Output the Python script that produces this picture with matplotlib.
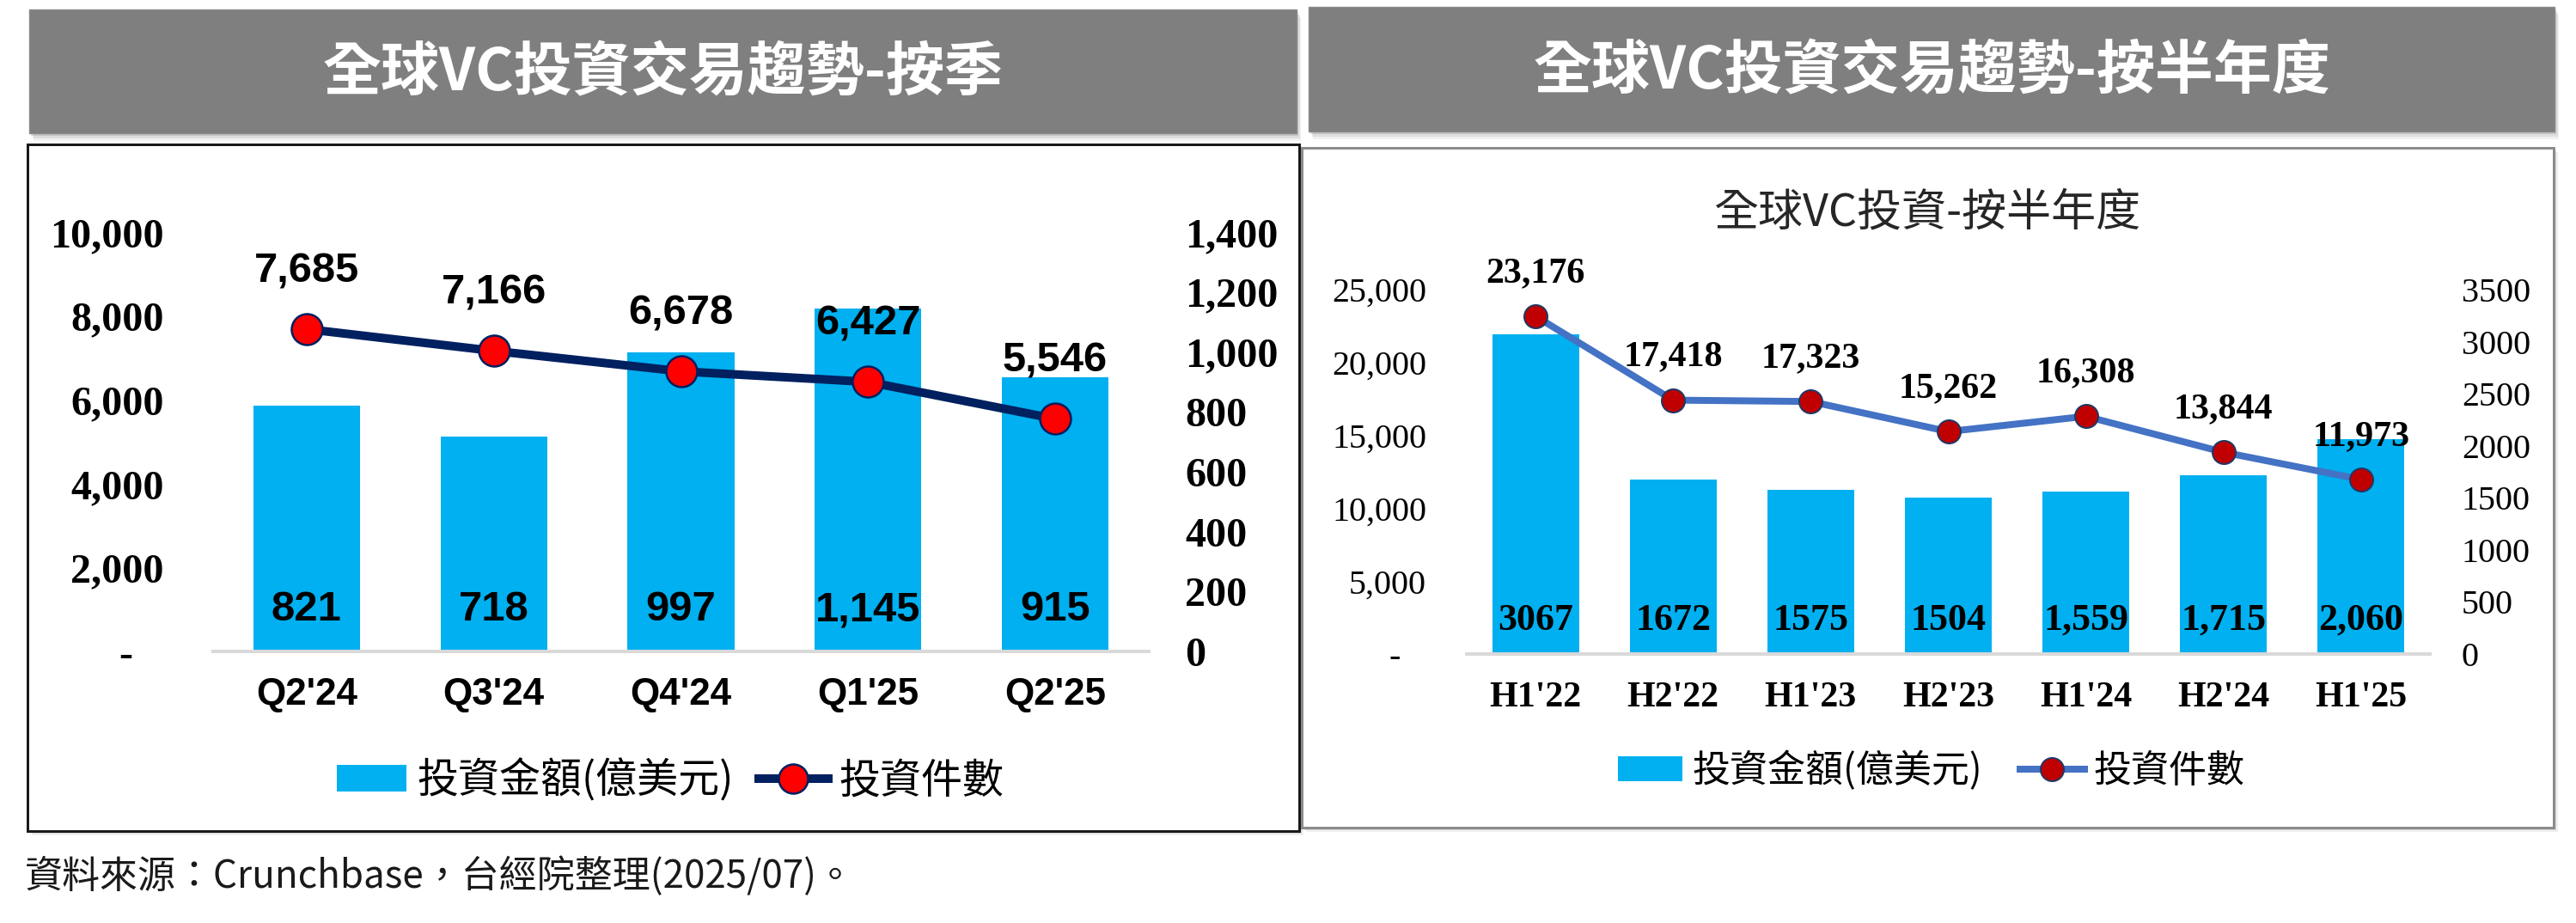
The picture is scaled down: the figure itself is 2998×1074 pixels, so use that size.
import matplotlib
matplotlib.use('Agg')
import matplotlib.pyplot as plt
from matplotlib.patches import Rectangle, Patch
from matplotlib.lines import Line2D
from matplotlib.font_manager import FontProperties

W, H = 2998, 1074
DPI = 100
PT = 72 / DPI  # points per pixel

# ---------------- data ----------------
q_labels = ["Q2'24", "Q3'24", "Q4'24", "Q1'25", "Q2'25"]
q_amount = [821, 718, 997, 1145, 915]          # 投資金額(億美元)
q_deals = [7685, 7166, 6678, 6427, 5546]       # 投資件數
q_deal_ticks = [0, 2000, 4000, 6000, 8000, 10000]
q_amount_ticks = [0, 200, 400, 600, 800, 1000, 1200, 1400]

h_labels = ["H1'22", "H2'22", "H1'23", "H2'23", "H1'24", "H2'24", "H1'25"]
h_amount = [3067, 1672, 1575, 1504, 1559, 1715, 2060]
h_amount_text = ["3067", "1672", "1575", "1504", "1,559", "1,715", "2,060"]
h_deals = [23176, 17418, 17323, 15262, 16308, 13844, 11973]
h_deal_ticks = [0, 5000, 10000, 15000, 20000, 25000]
h_amount_ticks = [0, 500, 1000, 1500, 2000, 2500, 3000, 3500]

title_left = "全球VC投資交易趨勢-按季"
title_right = "全球VC投資交易趨勢-按半年度"
chart_title_right = "全球VC投資-按半年度"
legend_bar = "投資金額(億美元)"
legend_line = "投資件數"
source = "資料來源：Crunchbase，台經院整理(2025/07)。"

BAR = '#00B0F0'
CJK = ['Noto Sans CJK TC', 'DejaVu Sans']

fig = plt.figure(figsize=(W / DPI, H / DPI), dpi=DPI)
fig.patch.set_facecolor('white')


def rect_px(x0, y0, x1, y1, **kw):
    r = Rectangle((x0 / W, 1 - y1 / H), (x1 - x0) / W, (y1 - y0) / H,
                  transform=fig.transFigure, **kw)
    fig.add_artist(r)
    return r


def axes_px(x0, y0, x1, y1):
    return fig.add_axes([x0 / W, 1 - y1 / H, (x1 - x0) / W, (y1 - y0) / H])


def header(x0, y0, x1, y1, text):
    for k, a in [(9, 0.10), (6, 0.15), (3, 0.25)]:
        rect_px(x0 + k * 0.6, y0 + k, x1 + k * 0.6, y1 + k, facecolor='#777777',
                edgecolor='none', alpha=a, zorder=0)
    rect_px(x0, y0, x1, y1, facecolor='#7F7F7F', edgecolor='#8A8A8A', lw=1, zorder=1)
    fig.text((x0 + x1) / 2 / W, 1 - ((y0 + y1) / 2 + 2) / H, text, ha='center', va='center',
             color='white', fontsize=68 * PT, fontweight='bold', family=CJK, zorder=2)


# headers
header(34, 11, 1509, 155, title_left)
header(1523, 8, 2973, 153, title_right)

# chart boxes with slight shadow
for k, a in [(5, 0.12), (3, 0.2)]:
    rect_px(32 + k, 168 + k, 1512 + k, 967 + k, facecolor='#808080', edgecolor='none',
            alpha=a, zorder=0)
rect_px(32, 168, 1512, 967, facecolor='white', edgecolor='#1A1A1A', lw=3 * PT, zorder=1)
for k, a in [(5, 0.12), (3, 0.2)]:
    rect_px(1515 + k, 172 + k, 2972 + k, 963 + k, facecolor='#808080', edgecolor='none',
            alpha=a, zorder=0)
rect_px(1515, 172, 2972, 963, facecolor='white', edgecolor='#8C8C8C', lw=3 * PT, zorder=1)


def style_axes(ax):
    for s in ['top', 'left', 'right']:
        ax.spines[s].set_visible(False)
    ax.spines['bottom'].set_color('#D9D9D9')
    ax.spines['bottom'].set_linewidth(4 * PT)
    ax.patch.set_visible(False)


# ---------------- left chart ----------------
axL = axes_px(248, 270, 1337, 758)
axL2 = axL.twinx()
axL2.set_zorder(5)
axL.set_zorder(6)
style_axes(axL)
style_axes(axL2)
axL2.spines['bottom'].set_visible(False)

xq = list(range(len(q_labels)))
axL2.bar(xq, q_amount, width=0.57, color=BAR, zorder=2)
axL.plot(xq, q_deals, color='#002060', lw=10 * PT, marker='o', ms=36 * PT,
         mfc='#FF0000', mec='#002060', mew=2.5 * PT, zorder=3)
axL.set_xlim(-0.5, len(q_labels) - 0.5)
axL.set_ylim(0, 10000)
axL2.set_ylim(0, 1400)

serif_b = dict(family='Liberation Serif', weight='bold')
axL.set_yticks(q_deal_ticks)
axL.set_yticklabels([f"{v:,}" if v else "-   " for v in q_deal_ticks],
                    fontsize=48 * PT, **serif_b)
axL2.set_yticks(q_amount_ticks)
axL2.set_yticklabels([f"{v:,}" for v in q_amount_ticks], fontsize=48 * PT, **serif_b)
axL.tick_params(axis='y', length=0, pad=57 * PT)
axL2.tick_params(axis='y', length=0, pad=42 * PT)
axL.set_xticks(xq)
axL.set_xticklabels(q_labels, fontsize=44 * PT, family='Liberation Sans', weight='bold')
axL.tick_params(axis='x', length=0, pad=30 * PT)

for i, v in enumerate(q_deals):
    axL.annotate(f"{v:,}", xy=(i, v), xytext=(0, 67 * PT), textcoords='offset points',
                 ha='center', va='center', fontsize=49 * PT, family='Liberation Sans',
                 weight='bold', color='black', zorder=5)
for i, v in enumerate(q_amount):
    axL2.annotate(f"{v:,}", xy=(i, 0), xytext=(0, 48 * PT), textcoords='offset points',
                  ha='center', va='center', fontsize=49 * PT, family='Liberation Sans',
                  weight='bold', color='black', zorder=5)

handlesL = [Patch(facecolor=BAR, edgecolor='none', label=legend_bar),
            Line2D([], [], color='#002060', lw=10 * PT, marker='o', ms=34 * PT,
                   mfc='#FF0000', mec='#002060', mew=2.5 * PT, label=legend_line)]
legL = fig.legend(handles=handlesL, loc='center', bbox_to_anchor=(780 / W, 1 - 908 / H),
                  ncol=2, frameon=False,
                  prop=FontProperties(family=CJK, size=48 * PT, weight='medium'),
                  handlelength=1.7, handleheight=0.62, handletextpad=0.25, columnspacing=0.6)
legL.set_zorder(10)

# ---------------- right chart ----------------
axR = axes_px(1707, 337, 2828, 761)
axR2 = axR.twinx()
axR2.set_zorder(5)
axR.set_zorder(6)
style_axes(axR)
style_axes(axR2)
axR2.spines['bottom'].set_visible(False)

xh = list(range(len(h_labels)))
axR2.bar(xh, h_amount, width=0.63, color=BAR, zorder=2)
axR.plot(xh, h_deals, color='#4472C4', lw=8 * PT, marker='o', ms=27 * PT,
         mfc='#C00000', mec='#203864', mew=2 * PT, zorder=3)
axR.set_xlim(-0.5, len(h_labels) - 0.5)
axR.set_ylim(0, 25000)
axR2.set_ylim(0, 3500)

serif_r = dict(family='Liberation Serif', weight='normal')
axR.set_yticks(h_deal_ticks)
axR.set_yticklabels([f"{v:,}" if v else "-   " for v in h_deal_ticks],
                    fontsize=40 * PT, **serif_r)
axR2.set_yticks(h_amount_ticks)
axR2.set_yticklabels([f"{v}" for v in h_amount_ticks], fontsize=40 * PT, **serif_r)
axR.tick_params(axis='y', length=0, pad=47 * PT)
axR2.tick_params(axis='y', length=0, pad=37 * PT)
axR.set_xticks(xh)
axR.set_xticklabels(h_labels, fontsize=42 * PT, **serif_b)
axR.tick_params(axis='x', length=0, pad=32 * PT)

for i, v in enumerate(h_deals):
    axR.annotate(f"{v:,}", xy=(i, v), xytext=(0, 50 * PT), textcoords='offset points',
                 ha='center', va='center', fontsize=42 * PT, color='black', zorder=5,
                 **serif_b)
for i, t in enumerate(h_amount_text):
    axR2.annotate(t, xy=(i, 0), xytext=(0, 39 * PT), textcoords='offset points',
                  ha='center', va='center', fontsize=44 * PT, color='black', zorder=5,
                  **serif_b)

fig.text(2243 / W, 1 - 248 / H, chart_title_right, ha='center', va='center',
         fontsize=52 * PT, family=CJK, color='#262626', zorder=10)

handlesR = [Patch(facecolor=BAR, edgecolor='none', label=legend_bar),
            Line2D([], [], color='#4472C4', lw=8 * PT, marker='o', ms=27 * PT,
                   mfc='#C00000', mec='#203864', mew=2 * PT, label=legend_line)]
legR = fig.legend(handles=handlesR, loc='center', bbox_to_anchor=(2248 / W, 1 - 897 / H),
                  ncol=2, frameon=False,
                  prop=FontProperties(family=CJK, size=44 * PT, weight='medium'),
                  handlelength=1.7, handleheight=0.62, handletextpad=0.25, columnspacing=1.0)
legR.set_zorder(10)

# source note
fig.text(29 / W, 1 - 1020 / H, source, ha='left', va='center', fontsize=44 * PT,
         family=CJK, color='#1A1A1A')

fig.savefig('out.png', dpi=DPI, facecolor='white')
